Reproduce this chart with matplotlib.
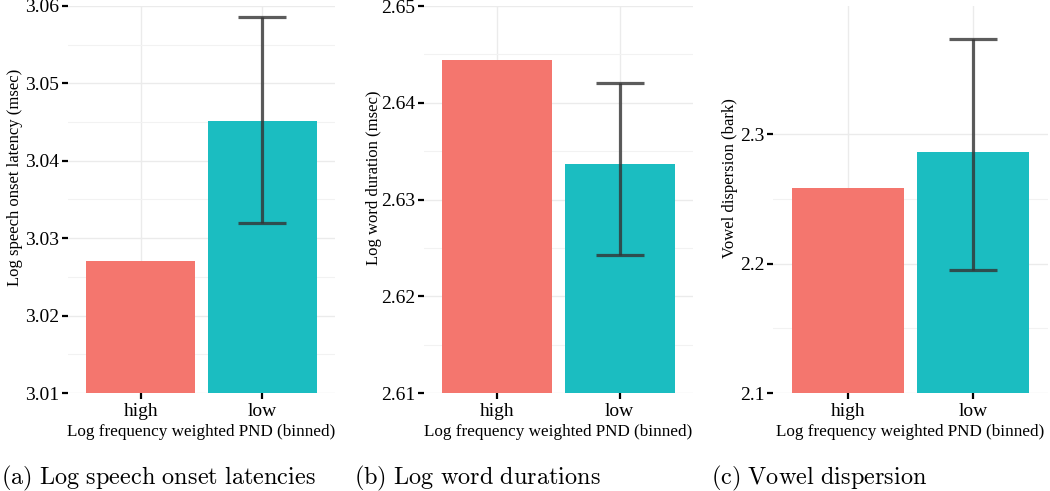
import matplotlib
matplotlib.use("Agg")
import matplotlib.pyplot as plt
import numpy as np
from matplotlib import rcParams

rcParams['font.family'] = 'serif'
rcParams['font.serif'] = ['Liberation Serif', 'DejaVu Serif']
rcParams['mathtext.fontset'] = 'cm'

# Data
categories = ['high', 'low']
xlabel = 'Log frequency weighted PND (binned)'

onset_means = [3.0271, 3.0451]
onset_lo = [np.nan, 3.0320]
onset_hi = [np.nan, 3.0586]

duration_means = [2.6444, 2.6337]
duration_lo = [np.nan, 2.6243]
duration_hi = [np.nan, 2.6420]

vowel_means = [2.258, 2.286]
vowel_lo = [np.nan, 2.1948]
vowel_hi = [np.nan, 2.3736]

panels = [
  dict(means=onset_means, lo=onset_lo, hi=onset_hi, ylim=(3.01, 3.06),
       ticks=[3.01, 3.02, 3.03, 3.04, 3.05, 3.06],
       ylabel='Log speech onset latency (msec)',
       caption=r'$\mathrm{(a)\ Log\ speech\ onset\ latencies}$',
       rect_px=(68, 335), ylab_x=-0.17, cap_px=1, fmt='%.2f'),
  dict(means=duration_means, lo=duration_lo, hi=duration_hi, ylim=(2.61, 2.65),
       ticks=[2.61, 2.62, 2.63, 2.64, 2.65],
       ylabel='Log word duration (msec)',
       caption=r'$\mathrm{(b)\ Log\ word\ durations}$',
       rect_px=(424, 693), ylab_x=-0.156, cap_px=354, fmt='%.2f'),
  dict(means=vowel_means, lo=vowel_lo, hi=vowel_hi, ylim=(2.1, 2.399),
       ticks=[2.1, 2.2, 2.3],
       ylabel='Vowel dispersion (bark)',
       caption=r'$\mathrm{(c)\ Vowel\ dispersion}$',
       rect_px=(773, 1048), ylab_x=-0.127, cap_px=711, fmt='%.1f'),
]

colors = ['#F4766E', '#1BBDC1']
W, H = 1050, 491
top_px, bot_px = 6, 393

fig = plt.figure(figsize=(W / 100, H / 100), dpi=100)

for p in panels:
  l, r = p['rect_px']
  ax = fig.add_axes([l / W, 1 - bot_px / H, (r - l) / W, (bot_px - top_px) / H])
  x = np.arange(len(categories)) + 1
  y0 = p['ylim'][0]
  ax.bar(x, np.array(p['means']) - y0, bottom=y0, width=0.9, color=colors, zorder=2)
  for xi, lo, hi, m in zip(x, p['lo'], p['hi'], p['means']):
    if np.isnan(lo):
      continue
    ax.errorbar([xi], [m], yerr=[[m - lo], [hi - m]], fmt='none', ecolor='#333333',
                alpha=0.8, elinewidth=2.3, capsize=17.5, capthick=2.3, zorder=3)
  ax.set_xlim(0.4, 2.6)
  ax.set_ylim(*p['ylim'])
  ax.set_yticks(p['ticks'])
  ax.set_yticklabels([p['fmt'] % t for t in p['ticks']])
  minors = [(a + b) / 2 for a, b in zip(p['ticks'][:-1], p['ticks'][1:])]
  ax.set_yticks(minors, minor=True)
  ax.set_xticks(x)
  ax.set_xticklabels(categories)
  ax.grid(True, which='major', color='#EBEBEB', lw=1.0, zorder=0)
  ax.grid(True, which='minor', axis='y', color='#F2F2F2', lw=0.8, zorder=0)
  ax.set_axisbelow(True)
  for s in ax.spines.values():
    s.set_visible(False)
  ax.tick_params(axis='both', which='major', length=4.3, width=1.6, color='black',
                 labelsize=14, pad=2)
  ax.tick_params(axis='x', which='major', pad=3)
  ax.tick_params(axis='y', which='minor', length=0)
  ax.set_xlabel(xlabel, fontsize=12.3, labelpad=2.5)
  ax.set_ylabel(p['ylabel'], fontsize=12)
  ax.yaxis.set_label_coords(p['ylab_x'], 0.556)
  fig.text(p['cap_px'] / W, 1 - 478 / H, p['caption'], fontsize=17.5,
           ha='left', va='center')

fig.savefig('out.png', dpi=100)
